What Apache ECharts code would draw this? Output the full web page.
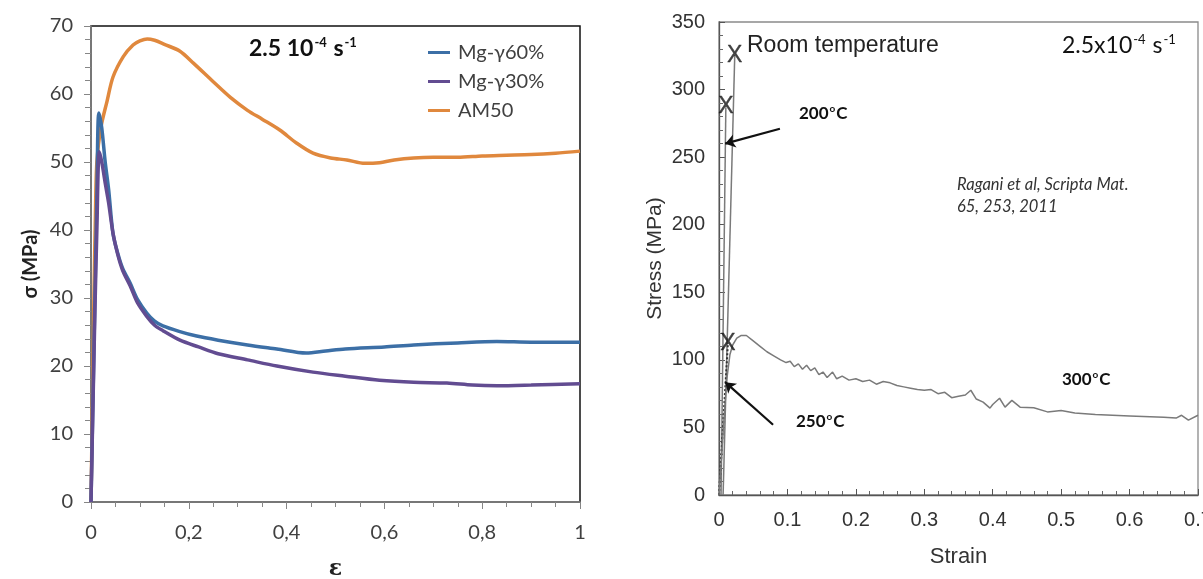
<!DOCTYPE html>
<html>
<head>
<meta charset="utf-8">
<script src="https://cdn.jsdelivr.net/npm/echarts@6/dist/echarts.min.js"></script>
<style>
html,body{margin:0;padding:0;background:#fff;}
#chart{width:1203px;height:579px;}
</style>
</head>
<body>
<div id="chart"></div>
<script>
// ---------- Left panel data (strain ε, stress σ MPa) ----------
const leftXTicks = ['0','0,2','0,4','0,6','0,8','1'];
const am50Strain = [0,0.003,0.006,0.009,0.012,0.02,0.033,0.045,0.066,0.086,0.1,0.115,0.13,0.15,0.182,0.21,0.25,0.285,0.32,0.35,0.386,0.42,0.454,0.49,0.523,0.56,0.59,0.62,0.66,0.7,0.75,0.8,0.85,0.9,0.95,1.0];
const am50Stress = [0,15,30,42,50,55,59,62.5,65.5,67.2,67.8,68.1,67.9,67.3,66.3,64.5,61.8,59.5,57.6,56.3,54.7,52.8,51.3,50.6,50.3,49.8,49.9,50.3,50.6,50.7,50.7,50.9,51.0,51.1,51.3,51.6];
const g60Strain = [0,0.004,0.008,0.012,0.016,0.022,0.029,0.036,0.045,0.055,0.065,0.08,0.095,0.114,0.13,0.147,0.18,0.216,0.26,0.32,0.38,0.44,0.48,0.52,0.6,0.66,0.75,0.83,0.9,1.0];
const g60Stress = [0,15,30,45,57.2,55,50,46,39.5,36.5,34.3,32.2,29.8,27.8,26.6,25.9,25.1,24.4,23.8,23.1,22.5,21.9,22.2,22.5,22.8,23.1,23.4,23.6,23.5,23.5];
const g30Strain = [0,0.004,0.008,0.012,0.017,0.022,0.03,0.036,0.045,0.055,0.065,0.08,0.095,0.114,0.13,0.147,0.182,0.22,0.26,0.32,0.38,0.454,0.52,0.59,0.66,0.728,0.78,0.83,0.9,1.0];
const g30Stress = [0,14,28,40,51.5,50,46.5,44,39.5,36.3,34,31.8,29.3,27.3,26,25.2,23.8,22.8,21.8,20.9,20,19.1,18.5,17.9,17.6,17.5,17.2,17.1,17.2,17.4];

// ---------- Right panel data (strain, stress MPa) ----------
const rtStrain = [0.006,0.023];
const rtStress = [0,325];
const t200Strain = [0.003,0.010];
const t200Stress = [0,287];
const t250Strain = [0,0.013];
const t250Stress = [0,112];
const t300Strain = [0,0.004,0.008,0.012,0.016,0.02,0.026,0.032,0.04,0.05,0.06,0.07,0.08,0.09,0.098,0.104,0.11,0.116,0.122,0.128,0.134,0.14,0.146,0.152,0.158,0.166,0.172,0.18,0.19,0.2,0.21,0.22,0.23,0.24,0.25,0.26,0.27,0.28,0.29,0.3,0.31,0.32,0.33,0.34,0.35,0.36,0.368,0.376,0.386,0.396,0.4,0.41,0.418,0.428,0.44,0.46,0.48,0.5,0.52,0.55,0.6,0.65,0.668,0.676,0.686,0.7];
const t300Stress = [0,30,62,88,104,111,116,118,118,114,110,106,103,100,98,99,95,97,93,96,92,94,89,91,87,91,86,88,85,86,84,85,82,84,83,81,80,79,78,77.5,78,75,76,72,73,74,77.5,71,68.7,64.3,67,71.6,65,70,65,64.5,61.5,62.5,60.6,59.5,58.5,57.6,56.9,59,55.4,59];
const failStrain = [0.023,0.010,0.013];
const failStress = [325,287,112];
const arrow200 = [[0.089,271],[0.009,260]];
const arrow250 = [[0.079,52],[0.009,83.5]];

const zip = (a,b) => a.map((v,i)=>[v,b[i]]);

const chart = echarts.init(document.getElementById('chart'), null, {renderer:'canvas'});

const leftGray = '#868686';
const rightGray = '#7a7a7a';
const lblL = {fontFamily:'Lato', fontSize:20, color:'#404040'};
const lblR = {fontFamily:'Liberation Sans', fontSize:20, color:'#333'};
const degRich = {b:{fontFamily:'Lato', fontWeight:'bold', fontSize:17, fill:'#111', lineHeight:22},
                 s:{fontFamily:'Lato', fontWeight:'bold', fontSize:10, fill:'#111', lineHeight:22, padding:[0,1,10,1]}};

const option = {
  animation:false,
  backgroundColor:'#fff',
  grid:[
    {left:91, top:26, width:489, height:476, show:true, borderColor:'#111', borderWidth:1.5, backgroundColor:'transparent', containLabel:false, outerBoundsMode:'none'},
    {left:719, top:22, width:479, height:473, show:true, borderColor:'#8a8a8a', borderWidth:1.3, backgroundColor:'transparent', containLabel:false, outerBoundsMode:'none'}
  ],
  xAxis:[
    {gridIndex:0, type:'value', min:0, max:1, interval:0.2,
     axisLine:{onZero:false, lineStyle:{color:leftGray, width:1.5}},
     axisTick:{length:7, lineStyle:{color:leftGray}},
     splitLine:{show:false},
     axisLabel:Object.assign({margin:21, formatter:(v)=>leftXTicks[Math.round(v/0.2)]}, lblL),
     name:'ε', nameLocation:'middle', nameGap:56,
     nameTextStyle:{fontFamily:'DejaVu Serif', fontWeight:'bold', fontSize:22, color:'#222'}},
    {gridIndex:0, type:'value', min:0, max:1, interval:0.2,
     axisLine:{show:false}, axisLabel:{show:false}, splitLine:{show:false},
     axisTick:{show:true, inside:true, length:0, lineStyle:{color:leftGray, width:0}},
     minorTick:{show:true, splitNumber:4, length:5, lineStyle:{color:leftGray}}},
    {gridIndex:1, type:'value', min:0, max:0.7, interval:0.1,
     axisLine:{onZero:false, lineStyle:{color:'#555', width:1.3}},
     axisTick:{inside:true, length:6, lineStyle:{color:'#555'}},
     minorTick:{show:true, splitNumber:5, length:4, lineStyle:{color:'#666'}},
     splitLine:{show:false},
     axisLabel:Object.assign({margin:15, showMaxLabel:true, alignMaxLabel:'center', formatter:(v)=> (Math.round(v*10)/10).toString()}, lblR),
     name:'Strain', nameLocation:'middle', nameGap:51,
     nameTextStyle:{fontFamily:'Liberation Sans', fontSize:22, color:'#333'}}
  ],
  yAxis:[
    {gridIndex:0, type:'value', min:0, max:70, interval:10,
     axisLine:{show:true, onZero:false, lineStyle:{color:leftGray, width:1.5}},
     axisTick:{show:true, length:7, lineStyle:{color:leftGray}},
     splitLine:{show:false},
     axisLabel:Object.assign({margin:18}, lblL),
     name:'σ (MPa)', nameLocation:'middle', nameGap:50, nameRotate:90,
     nameTextStyle:{fontFamily:'Lato', fontWeight:'bold', fontSize:20, color:'#222'}},
    {gridIndex:0, type:'value', min:0, max:70, interval:10,
     axisLine:{show:false}, axisLabel:{show:false}, splitLine:{show:false},
     axisTick:{show:true, inside:true, length:0, lineStyle:{color:leftGray, width:0}},
     minorTick:{show:true, splitNumber:5, length:6, lineStyle:{color:leftGray}}},
    {gridIndex:1, type:'value', min:0, max:350, interval:50,
     axisLine:{show:true, onZero:false, lineStyle:{color:'#555', width:1.3}},
     axisTick:{show:true, inside:true, length:6, lineStyle:{color:'#555'}},
     minorTick:{show:true, splitNumber:5, length:4, lineStyle:{color:'#666'}},
     splitLine:{show:false},
     axisLabel:Object.assign({margin:14}, lblR),
     name:'Stress (MPa)', nameLocation:'middle', nameGap:53, nameRotate:90,
     nameTextStyle:{fontFamily:'Liberation Sans', fontSize:21, color:'#333'}}
  ],
  legend:{
    orient:'vertical', left:423, top:37, itemGap:8,
    icon:'rect', itemWidth:22, itemHeight:3,
    textStyle:{fontFamily:'Lato', fontSize:20, color:'#404040', lineHeight:21, padding:[0,0,0,3]},
    data:['Mg-γ60%','Mg-γ30%','AM50']
  },
  series:[
    {name:'AM50', type:'line', xAxisIndex:0, yAxisIndex:0, showSymbol:false, smooth:0.3,
     data:zip(am50Strain, am50Stress), lineStyle:{color:'#e0883d', width:3.5}, itemStyle:{color:'#e0883d'}, z:2},
    {name:'Mg-γ60%', type:'line', xAxisIndex:0, yAxisIndex:0, showSymbol:false, smooth:0.3,
     data:zip(g60Strain, g60Stress), lineStyle:{color:'#3c6fa6', width:3.5}, itemStyle:{color:'#3c6fa6'}, z:3},
    {name:'Mg-γ30%', type:'line', xAxisIndex:0, yAxisIndex:0, showSymbol:false, smooth:0.3,
     data:zip(g30Strain, g30Stress), lineStyle:{color:'#624c91', width:3.5}, itemStyle:{color:'#624c91'}, z:4},
    {name:'Room temperature', type:'line', xAxisIndex:2, yAxisIndex:2, showSymbol:false,
     data:zip(rtStrain, rtStress), lineStyle:{color:rightGray, width:1.5}},
    {name:'200°C', type:'line', xAxisIndex:2, yAxisIndex:2, showSymbol:false,
     data:zip(t200Strain, t200Stress), lineStyle:{color:rightGray, width:1.5}},
    {name:'250°C', type:'line', xAxisIndex:2, yAxisIndex:2, showSymbol:false,
     data:zip(t250Strain, t250Stress), lineStyle:{color:'#333', width:2, type:'dotted'}},
    {name:'300°C', type:'line', xAxisIndex:2, yAxisIndex:2, showSymbol:false,
     data:zip(t300Strain, t300Stress), lineStyle:{color:rightGray, width:1.5}},
    {name:'failure', type:'scatter', xAxisIndex:2, yAxisIndex:2, symbolSize:1,
     itemStyle:{color:'rgba(0,0,0,0)'},
     label:{show:true, position:'inside', formatter:'X', fontFamily:'Liberation Sans', fontSize:23, color:'#111', textBorderColor:'#111', textBorderWidth:0.4},
     data:zip(failStrain, failStress), z:5},
    {name:'arrows', type:'lines', coordinateSystem:'cartesian2d', xAxisIndex:2, yAxisIndex:2,
     symbol:['none','arrow'], symbolSize:10,
     lineStyle:{color:'#111', width:2.2, opacity:1},
     data:[{coords:arrow200},{coords:arrow250}], z:6}
  ],
  graphic:[
    {type:'text', left:249, top:36, style:{
      text:'{b|2.5 10}{s|-4}{b| s}{s|-1}',
      rich:{b:{fontFamily:'Lato', fontWeight:'bold', fontSize:23, fill:'#111', lineHeight:28},
            s:{fontFamily:'Lato', fontWeight:'bold', fontSize:13, fill:'#111', lineHeight:28, padding:[0,1,12,1]}}}},
    {type:'text', left:747, top:34, style:{text:'Room temperature', fontFamily:'Liberation Sans', fontSize:23, fill:'#222'}},
    {type:'text', left:1062, top:33, style:{
      text:'{b|2.5x10}{s|-4}{b| s}{s|-1}',
      rich:{b:{fontFamily:'Lato', fontSize:23, fill:'#111', lineHeight:28},
            s:{fontFamily:'Lato', fontSize:13, fill:'#111', lineHeight:28, padding:[0,1,12,1]}}}},
    {type:'text', left:799, top:104, style:{text:'{b|200}{s|o}{b|C}', rich:degRich}},
    {type:'text', left:796, top:412, style:{text:'{b|250}{s|o}{b|C}', rich:degRich}},
    {type:'text', left:1062, top:370, style:{text:'{b|300}{s|o}{b|C}', rich:degRich}},
    {type:'text', left:957, top:174, style:{text:'Ragani et al, Scripta Mat.\n65, 253, 2011', fontFamily:'Lato', fontStyle:'italic', fontSize:16.5, lineHeight:22, fill:'#333'}}
  ]
};
chart.setOption(option);
</script>
</body>
</html>
